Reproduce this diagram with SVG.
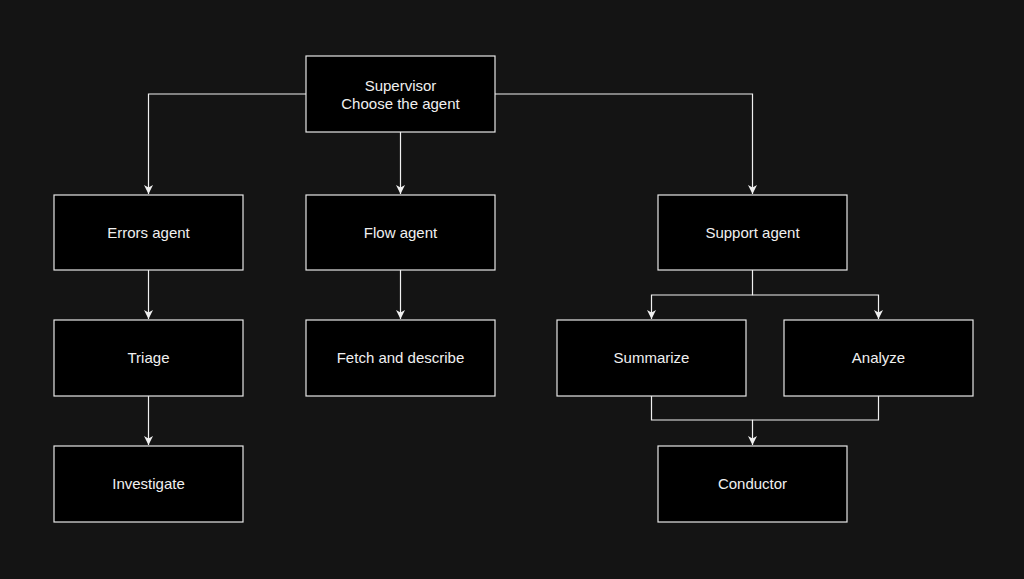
<svg xmlns="http://www.w3.org/2000/svg" width="1024" height="579" viewBox="0 0 1024 579">
<style>
.box{fill:#000;stroke:#e6e6e6;stroke-width:1.2}
.lbl{fill:#f0f0f0;font-family:"Liberation Sans",Arial,sans-serif;font-size:15px;text-anchor:middle;dominant-baseline:central}
.edge{fill:none;stroke:#f0f0f0;stroke-width:1.2}
</style>
<defs>
<marker id="arr" markerWidth="12" markerHeight="12" refX="9" refY="6" orient="auto" markerUnits="userSpaceOnUse">
<path d="M0,1.5 L9,6 L0,10.5 L2.5,6 Z" fill="#f0f0f0"/>
</marker>
</defs>
<rect width="1024" height="579" fill="#141414"/>
<g id="connectors">
<path class="edge" d="M306,94 H148.5 V194" marker-end="url(#arr)"/>
<path class="edge" d="M400.5,132 V194" marker-end="url(#arr)"/>
<path class="edge" d="M495,94 H752.5 V194" marker-end="url(#arr)"/>
<path class="edge" d="M148.5,270 V319" marker-end="url(#arr)"/>
<path class="edge" d="M400.5,270 V319" marker-end="url(#arr)"/>
<path class="edge" d="M148.5,396 V445" marker-end="url(#arr)"/>
<path class="edge" d="M752.5,270 V295 H651.5 V319" marker-end="url(#arr)"/>
<path class="edge" d="M752.5,295 H878.5 V319" marker-end="url(#arr)"/>
<path class="edge" d="M651.5,396 V420 H752.5 V445" marker-end="url(#arr)"/>
<path class="edge" d="M878.5,396 V420 H752.5"/>
</g>
<g id="supervisor"><rect class="box" x="306" y="56" width="189" height="76"/><text class="lbl" x="400.5" y="85">Supervisor</text><text class="lbl" x="400.5" y="103">Choose the agent</text></g>
<g id="errors-agent"><rect class="box" x="54" y="195" width="189" height="75"/><text class="lbl" x="148.5" y="232">Errors agent</text></g>
<g id="flow-agent"><rect class="box" x="306" y="195" width="189" height="75"/><text class="lbl" x="400.5" y="232">Flow agent</text></g>
<g id="support-agent"><rect class="box" x="658" y="195" width="189" height="75"/><text class="lbl" x="752.5" y="232">Support agent</text></g>
<g id="triage"><rect class="box" x="54" y="320" width="189" height="76"/><text class="lbl" x="148.5" y="357.5">Triage</text></g>
<g id="fetch"><rect class="box" x="306" y="320" width="189" height="76"/><text class="lbl" x="400.5" y="357.5">Fetch and describe</text></g>
<g id="summarize"><rect class="box" x="557" y="320" width="189" height="76"/><text class="lbl" x="651.5" y="357.5">Summarize</text></g>
<g id="analyze"><rect class="box" x="784" y="320" width="189" height="76"/><text class="lbl" x="878.5" y="357.5">Analyze</text></g>
<g id="investigate"><rect class="box" x="54" y="446" width="189" height="76"/><text class="lbl" x="148.5" y="483.5">Investigate</text></g>
<g id="conductor"><rect class="box" x="658" y="446" width="189" height="76"/><text class="lbl" x="752.5" y="483.5">Conductor</text></g>
</svg>
